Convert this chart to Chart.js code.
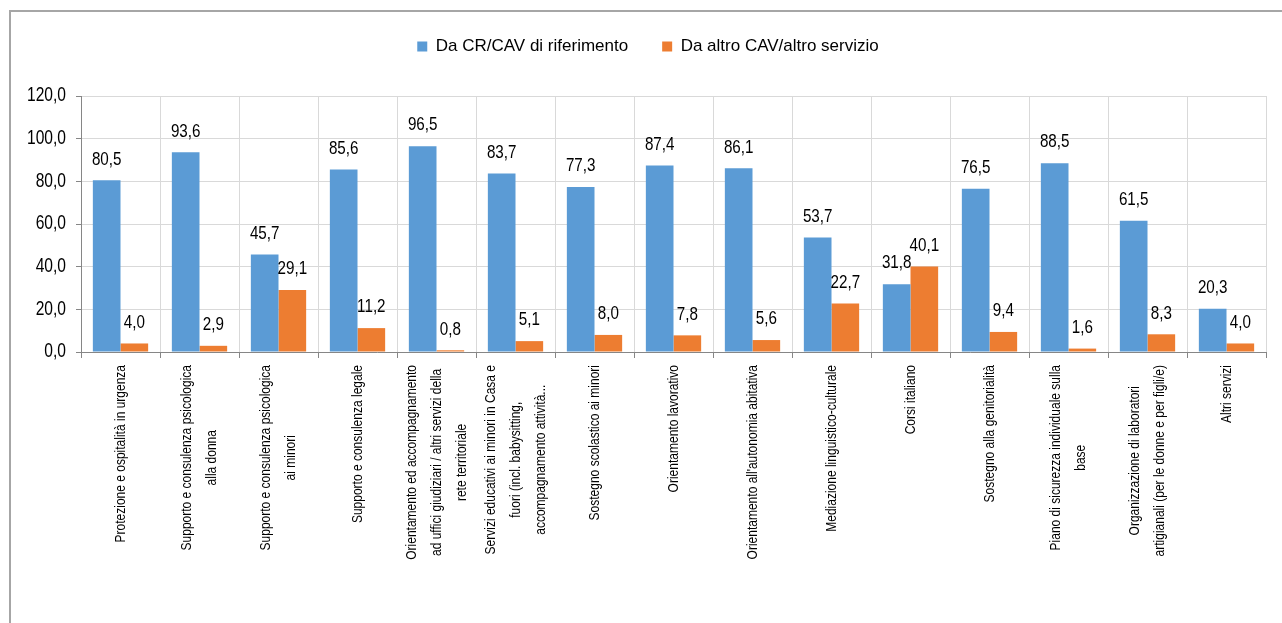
<!DOCTYPE html>
<html>
<head>
<meta charset="utf-8">
<script src="https://cdn.jsdelivr.net/npm/chart.js@4/dist/chart.umd.min.js"></script>
<style>
  html, body { margin: 0; padding: 0; width: 1282px; height: 623px; overflow: hidden; background: #fff; }
  #frame { position: absolute; left: 9px; top: 10px; width: 1400px; height: 800px; border: 2px solid #a6a6a6; box-sizing: border-box; }
  #c { position: absolute; left: 0; top: 0; }
</style>
</head>
<body>
<div id="frame"></div>
<canvas id="c" width="1282" height="623"></canvas>
<script>
const FONT = "'Liberation Sans', Arial, sans-serif";
const NARROW = 0.8; // horizontal squeeze emulating the narrow face of the original

const categories = [
  ["Protezione e ospitalità in urgenza"],
  ["Supporto e consulenza psicologica", "alla donna"],
  ["Supporto e consulenza psicologica", "ai minori"],
  ["Supporto e consulenza legale"],
  ["Orientamento ed accompagnamento", "ad uffici giudiziari / altri servizi della", "rete territoriale"],
  ["Servizi educativi ai minori in Casa e", "fuori (incl. babysitting,", "accompagnamento attività..."],
  ["Sostegno scolastico ai minori"],
  ["Orientamento lavorativo"],
  ["Orientamento all'autonomia abitativa"],
  ["Mediazione linguistico-culturale"],
  ["Corsi italiano"],
  ["Sostegno alla genitorialità"],
  ["Piano di sicurezza individuale sulla", "base"],
  ["Organizzazione di laboratori", "artigianali (per le donne e per figli/e)"],
  ["Altri servizi"]
];

const seriesNames = ["Da CR/CAV di riferimento", "Da altro CAV/altro servizio"];
const daRiferimento = [80.5, 93.6, 45.7, 85.6, 96.5, 83.7, 77.3, 87.4, 86.1, 53.7, 31.8, 76.5, 88.5, 61.5, 20.3];
const daAltro = [4.0, 2.9, 29.1, 11.2, 0.8, 5.1, 8.0, 7.8, 5.6, 22.7, 40.1, 9.4, 1.6, 8.3, 4.0];

const yMin = 0, yMax = 120, yStep = 20;

const fmt = v => v.toFixed(1).replace('.', ',');

function narrowText(ctx, text, x, y) {
  ctx.save();
  ctx.translate(x, y);
  ctx.scale(NARROW, 1);
  ctx.fillText(text, 0, 0);
  ctx.restore();
}

const valueLabels = {
  id: 'valueLabels',
  afterDatasetsDraw(chart) {
    const ctx = chart.ctx;
    ctx.save();
    ctx.font = "19px " + FONT;
    ctx.fillStyle = '#000';
    ctx.textAlign = 'center';
    ctx.textBaseline = 'middle';
    chart.data.datasets.forEach((ds, di) => {
      const meta = chart.getDatasetMeta(di);
      meta.data.forEach((el, i) => {
        narrowText(ctx, fmt(ds.data[i]), el.x, el.y - 21);
      });
    });
    ctx.restore();
  }
};

const axisLabels = {
  id: 'axisLabels',
  afterDraw(chart) {
    const ctx = chart.ctx;
    const xs = chart.scales.x, ys = chart.scales.y;
    ctx.save();
    ctx.fillStyle = '#000';
    // y tick labels
    ctx.font = "19.5px " + FONT;
    ctx.textAlign = 'right';
    ctx.textBaseline = 'middle';
    ys.ticks.forEach(t => {
      narrowText(ctx, fmt(t.value), ys.right - 15, ys.getPixelForValue(t.value));
    });
    // category labels, rotated, lines centred on one another
    ctx.font = "15px " + FONT;
    ctx.textAlign = 'center';
    const lh = 25;
    chart.data.labels.forEach((lines, i) => {
      const x = xs.getPixelForTick(i);
      const maxW = Math.max(...lines.map(l => ctx.measureText(l).width)) * NARROW;
      ctx.save();
      ctx.translate(x, xs.top + 13);
      ctx.rotate(-Math.PI / 2);
      lines.forEach((l, k) => {
        narrowText(ctx, l, -maxW / 2, (k - (lines.length - 1) / 2) * lh);
      });
      ctx.restore();
    });
    ctx.restore();
  }
};

new Chart(document.getElementById('c'), {
  type: 'bar',
  data: {
    labels: categories,
    datasets: [
      { label: seriesNames[0], data: daRiferimento, backgroundColor: '#5B9BD5', categoryPercentage: 0.7, barPercentage: 1.0 },
      { label: seriesNames[1], data: daAltro, backgroundColor: '#ED7D31', categoryPercentage: 0.7, barPercentage: 1.0 }
    ]
  },
  options: {
    responsive: false,
    animation: false,
    layout: { padding: { top: 4, left: 30, right: 16, bottom: 0 } },
    plugins: {
      legend: {
        position: 'top',
        weight: 3000,
        labels: { boxWidth: 10, boxHeight: 10, padding: 34, color: '#000', font: { family: FONT, size: 17 } }
      },
      subtitle: {
        display: true,
        text: ' ',
        font: { size: 10, lineHeight: 1.2 },
        padding: { top: 19, bottom: 0 }
      },
      tooltip: { enabled: false }
    },
    scales: {
      x: {
        grid: { color: '#d9d9d9', tickColor: '#868686', tickLength: 6, offset: true },
        border: { color: '#868686' },
        ticks: { display: false },
        afterFit(scale) { scale.height = 271; }
      },
      y: {
        min: yMin, max: yMax,
        grid: { color: '#d9d9d9', tickColor: '#868686', tickLength: 5 },
        border: { color: '#868686' },
        ticks: { display: false, stepSize: yStep },
        afterFit(scale) { scale.width = 51; }
      }
    }
  },
  plugins: [valueLabels, axisLabels]
});
</script>
</body>
</html>
